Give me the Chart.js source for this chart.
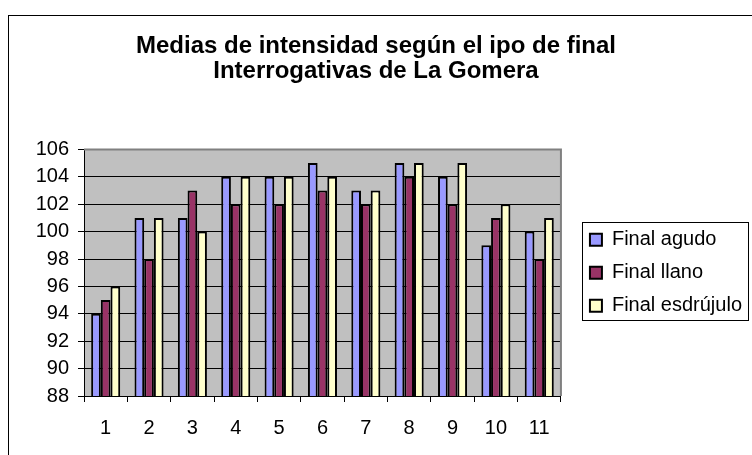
<!DOCTYPE html>
<html>
<head>
<meta charset="utf-8">
<script src="https://cdn.jsdelivr.net/npm/chart.js@4/dist/chart.umd.min.js"></script>
<style>
    html, body { margin: 0; padding: 0; background: #fff; }
    #contenedor { width: 752px; height: 455px; }
</style>
</head>
<body>
<div id="contenedor"><canvas id="miGrafica" width="752" height="455"></canvas></div>
<script>
const categorias = ["1", "2", "3", "4", "5", "6", "7", "8", "9", "10", "11"];
const finalAgudo = [94, 101, 101, 104, 104, 105, 103, 105, 104, 99, 100];
const finalLlano = [95, 98, 103, 102, 102, 103, 102, 104, 102, 101, 98];
const finalEsdrujulo = [96, 101, 100, 104, 104, 104, 103, 105, 105, 102, 101];
const nombresSeries = ["Final agudo", "Final llano", "Final esdrújulo"];
const titulo = ["Medias de intensidad según el ipo de final", "Interrogativas de La Gomera"];
const ejeY = { min: 88, max: 106, paso: 2 };

const FUENTE = "'Liberation Sans', Arial, sans-serif";

/* fondo gris del area, marco exterior y caja de la leyenda */
const decoracion = {
    id: "decoracion",
    afterLayout(chart) {
        // separar la leyenda del area de trazado
        chart.legend.left += 16;
        chart.legend.right += 16;
    },
    beforeDraw(chart) {
        const { ctx, chartArea: a } = chart;
        ctx.save();
        ctx.fillStyle = "#fff";
        ctx.fillRect(0, 0, chart.width, chart.height);
        ctx.strokeStyle = "#000";
        ctx.lineWidth = 1;
        ctx.strokeRect(8.5, 15.5, chart.width + 20, chart.height + 20);
        ctx.fillStyle = "#c0c0c0";
        ctx.fillRect(a.left, a.top, a.right - a.left, a.bottom - a.top);
        ctx.restore();
    },
    beforeDatasetsDraw(chart) {
        const { ctx, chartArea: a } = chart;
        ctx.save();
        ctx.strokeStyle = "#808080";
        ctx.lineWidth = 2;
        ctx.beginPath();
        ctx.moveTo(a.left, a.top);
        ctx.lineTo(a.right, a.top);
        ctx.lineTo(a.right, a.bottom);
        ctx.stroke();
        ctx.restore();
    },
    afterDraw(chart) {
        const cajas = chart.legend.legendHitBoxes;
        if (!cajas || !cajas.length) return;
        const ancho = Math.max(...cajas.map((c) => c.width));
        const primera = cajas[0];
        const ultima = cajas[cajas.length - 1];
        const x0 = primera.left - 8;
        const y0 = primera.top - 8;
        const x1 = primera.left + ancho + 6;
        const y1 = ultima.top + ultima.height + 4;
        const ctx = chart.ctx;
        ctx.save();
        ctx.strokeStyle = "#000";
        ctx.lineWidth = 1;
        ctx.strokeRect(Math.round(x0) + 0.5, Math.round(y0) + 0.5, Math.round(x1 - x0), Math.round(y1 - y0));
        ctx.restore();
    },
};

function serie(nombre, datos, color) {
    return {
        label: nombre,
        data: datos,
        backgroundColor: color,
        borderColor: "#000",
        borderWidth: 2,
        borderSkipped: false,
        categoryPercentage: 0.67,
        barPercentage: 1.0,
    };
}

const ctx = document.getElementById("miGrafica").getContext("2d");

new Chart(ctx, {
    type: "bar",
    data: {
        labels: categorias,
        datasets: [
            serie(nombresSeries[0], finalAgudo, "#9999ff"),
            serie(nombresSeries[1], finalLlano, "#993366"),
            serie(nombresSeries[2], finalEsdrujulo, "#ffffcc"),
        ],
    },
    plugins: [decoracion],
    options: {
        responsive: false,
        devicePixelRatio: 1,
        animation: false,
        layout: { padding: { left: 16, right: 16, top: 0, bottom: 1 } },
        scales: {
            x: {
                offset: true,
                grid: {
                    offset: true,
                    drawOnChartArea: false,
                    drawTicks: true,
                    tickLength: 6,
                    color: "#000",
                },
                border: { color: "#000", width: 1 },
                ticks: {
                    color: "#000",
                    padding: 14,
                    font: { family: FUENTE, size: 20 },
                    maxRotation: 0,
                },
            },
            y: {
                min: ejeY.min,
                max: ejeY.max,
                grid: { color: "#000", lineWidth: 1, tickLength: 6 },
                border: { color: "#000", width: 1 },
                ticks: {
                    stepSize: ejeY.paso,
                    autoSkip: false,
                    maxTicksLimit: 20,
                    color: "#000",
                    padding: 9,
                    font: { family: FUENTE, size: 20, lineHeight: 1 },
                },
                afterFit(scale) {
                    scale.width = 68;
                },
            },
        },
        plugins: {
            title: {
                display: true,
                text: titulo,
                color: "#000",
                font: { family: FUENTE, size: 24, weight: "bold", lineHeight: 1.05 },
                padding: { top: 34, bottom: 65 },
            },
            legend: {
                position: "right",
                fullSize: false,
                labels: {
                    color: "#000",
                    boxWidth: 12,
                    boxHeight: 12,
                    padding: 13,
                    font: { family: FUENTE, size: 20 },
                },
            },
            tooltip: { enabled: false },
        },
    },
});
</script>
</body>
</html>
